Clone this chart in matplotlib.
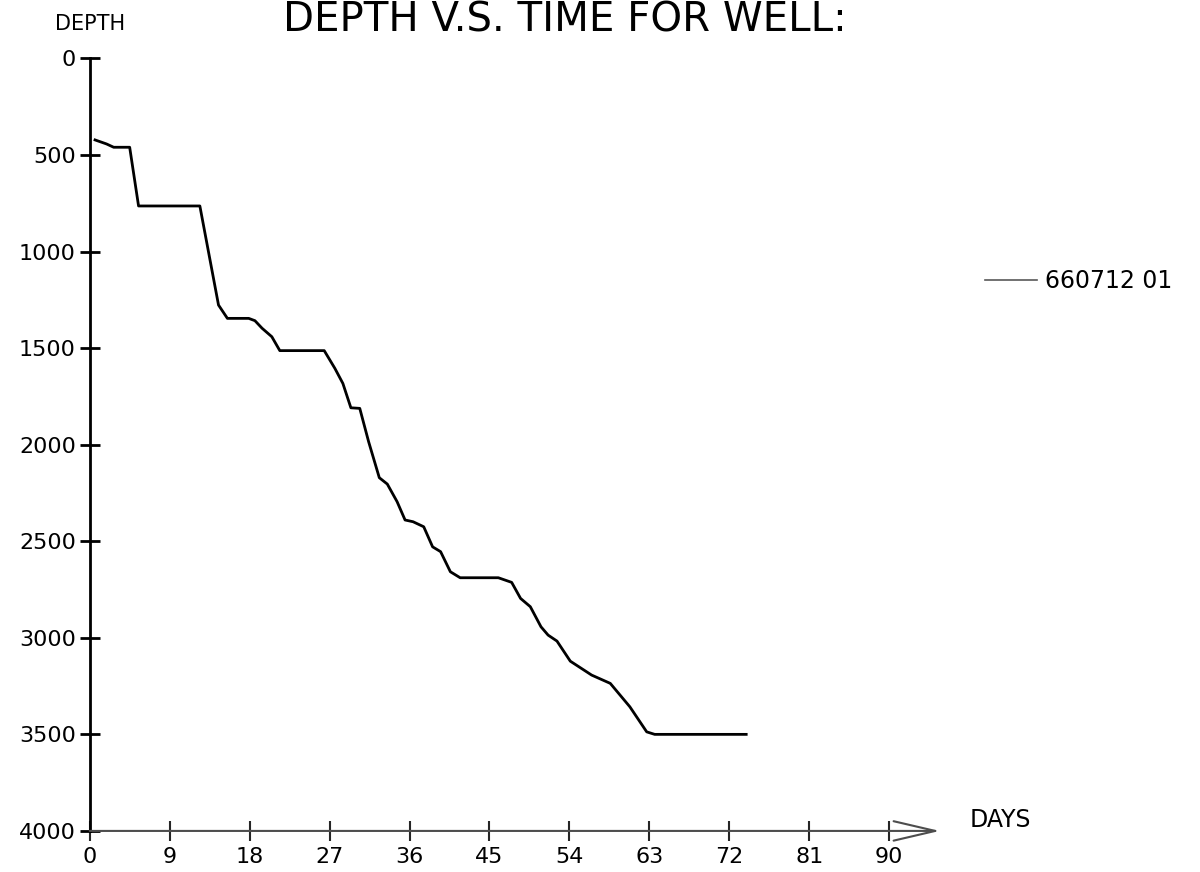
#!/usr/bin/env python
import numpy as np
from matplotlib import pyplot as plt

# depth log for well 660712 01
days = [0.6, 1.9, 2.7, 4.5, 5.5, 12.4, 14.5, 15.5, 17.9, 18.6, 19.4, 20.5, 21.4,
        26.4, 27.6, 28.5, 29.4, 30.4, 31.4, 32.6, 33.5, 34.6, 35.5, 36.4, 37.6,
        38.6, 39.5, 40.6, 41.7, 46.0, 47.5, 48.5, 49.6, 50.8, 51.6, 52.6, 54.1,
        56.5, 58.6, 60.8, 62.7, 63.6, 73.9]
depth = [422, 443, 460, 460, 764, 764, 1277, 1346, 1346, 1358, 1397, 1441, 1513,
         1513, 1605, 1683, 1809, 1812, 1985, 2171, 2204, 2295, 2390, 2399, 2425,
         2529, 2554, 2658, 2689, 2689, 2713, 2796, 2839, 2943, 2986, 3017, 3121,
         3193, 3236, 3357, 3487, 3500, 3500]
well_name = '660712 01'
x_ticks = list(range(0, 91, 9))
y_ticks = list(range(0, 4001, 500))

fig = plt.figure(figsize=(12, 8.72), dpi=100)
ax = fig.add_axes([0.07475, 0.0471, 0.7403, 0.8859])

ax.plot(days, depth, color='black', lw=2.0, label=well_name)

ax.set_xlim(0, 100)
ax.set_ylim(4000, 0)
ax.set_xticks(x_ticks)
ax.set_yticks(y_ticks)
ax.set_xticklabels([str(t) for t in x_ticks])
ax.set_yticklabels([str(t) for t in y_ticks])

for s in ['top', 'right', 'bottom']:
    ax.spines[s].set_visible(False)
ax.spines['left'].set_linewidth(2.0)

ax.tick_params(axis='x', direction='inout', length=15, width=1.5, pad=4,
               labelsize=16, color='0.15')
ax.tick_params(axis='y', direction='inout', length=14, width=2.0, pad=3,
               labelsize=16)

# x axis drawn as an arrow
ax.annotate('', xy=(95.7, 4000), xytext=(0, 4000),
            arrowprops=dict(arrowstyle='->,head_length=3.0,head_width=0.7',
                            lw=1.5, color='0.3', shrinkA=0, shrinkB=0),
            annotation_clip=False)

leg = ax.legend(loc='center left', bbox_to_anchor=(985 / 1200, 1 - 281 / 872),
                bbox_transform=fig.transFigure, frameon=False, fontsize=17,
                handlelength=2.2, handletextpad=0.35, borderpad=0,
                borderaxespad=0)
leg.get_lines()[0].set_linewidth(1.2)
leg.get_lines()[0].set_color('0.35')

fig.text(55 / 1200, 1 - 30 / 872, 'DEPTH', fontsize=15, va='baseline')
fig.text(970 / 1200, 1 - 827 / 872, 'DAYS', fontsize=17, va='baseline')
fig.text(283 / 1200, 1 - 31 / 872, 'DEPTH V.S. TIME FOR WELL:', fontsize=29,
         va='baseline')

fig.savefig('out.png', dpi=100)
